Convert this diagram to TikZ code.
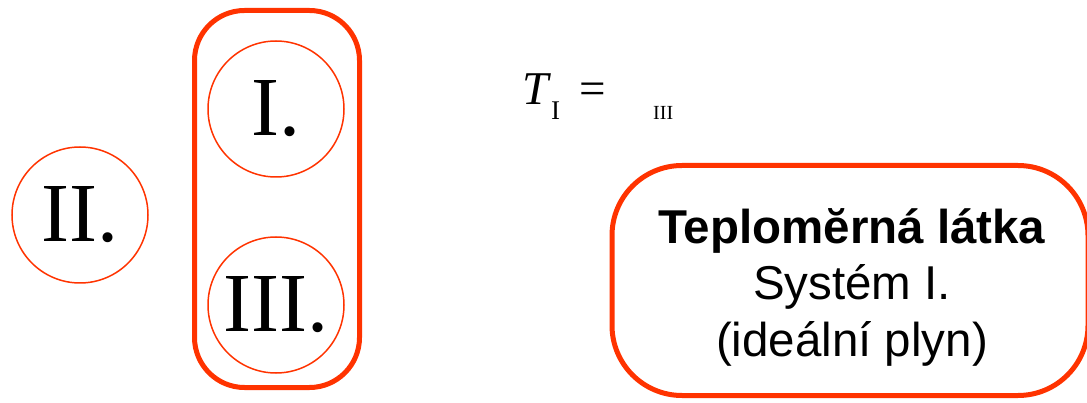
\documentclass[tikz,border=0pt]{standalone}
\usepackage{fontspec}
\setmainfont{Liberation Serif}
\newfontfamily\boxfont{Liberation Sans}
\usepackage{tikz}
\usetikzlibrary{positioning}
\definecolor{thermored}{HTML}{FF3300}

\begin{document}
\begin{tikzpicture}[
  x=1pt, y=-1pt,
  system/.style={
    draw=thermored, circle, line width=1.5pt, minimum size=136pt,
    inner sep=0pt, font=\fontsize{84}{90}\selectfont
  },
  groupbox/.style={
    draw=thermored, line width=5pt, rounded corners=50pt,
    minimum width=165pt, minimum height=377pt, inner sep=0pt
  },
  thermobox/.style={
    draw=thermored, line width=5pt, rounded corners=70pt,
    minimum width=476pt, minimum height=230pt, inner sep=0pt
  },
  boxtext/.style={
    align=center, inner sep=0pt, font=\boxfont\fontsize{47.5}{56.5}\selectfont
  }
]

% fixed frame
\useasboundingbox (0,0) rectangle (1087,403);

% systems I and III enclosed together
\node[groupbox] (group) at (277,199) {};
\node[system] (sysI) at (276,109) {I.};
\node[system] (sysIII) at (276,305) {III.};

% system II on its own
\node[system] (sysII) at (80,215) {II.};

% temperature relation
\node[anchor=base west, inner sep=0pt, font=\fontsize{47}{50}\selectfont] (temp) at (522,105)
  {\textit{T}\raisebox{-15pt}{\fontsize{27}{30}\selectfont I}\hspace{19pt}=};
\node[anchor=base west, inner sep=0pt, font=\fontsize{20}{22}\selectfont] (tempIII) at (653,120) {III};

% thermometric substance
\node[thermobox] (thermo) at (850,280.5) {};
\node[boxtext] (thermotxt) at (852,287) {\textbf{Teplomĕrná látka}\\Systém I.\\(ideální plyn)};

\end{tikzpicture}
\end{document}
